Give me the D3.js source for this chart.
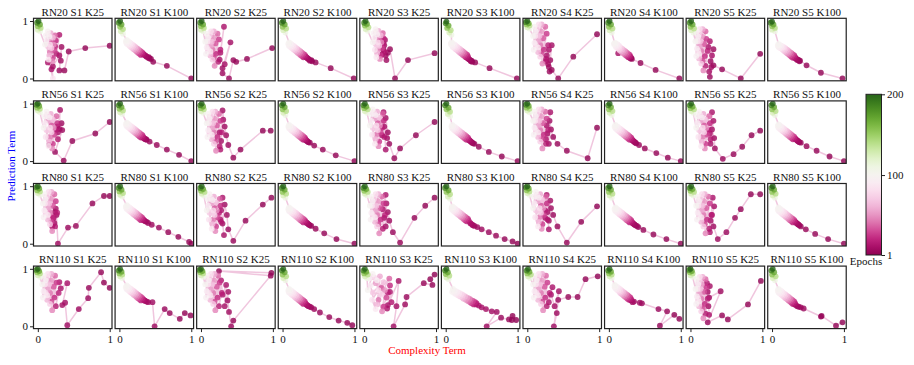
<!DOCTYPE html>
<html lang="en">
<head>
<meta charset="UTF-8">
<title>Trajectories</title>
<script src="https://d3js.org/d3.v7.min.js"></script>
<style>
  body { margin: 0; background: #fff; }
  svg text { font-family: "Liberation Serif", "DejaVu Serif", serif; }
</style>
</head>
<body>
<svg id="chart" width="914" height="365"></svg>
<script>
const models = ["RN20", "RN56", "RN80", "RN110"];
const seeds = ["S1", "S2", "S3", "S4", "S5"];
const ks = ["K25", "K100"];
const epochs = [1,2,3,4,5,6,7,8,9,10,11,12,
  14,17,21,25,29,33,37,42,46,50,54,58,62,66,70,74,78,82,85,88,91,94,96,98,100,
  110,125,140,155,170,185,200];
const axisTicks = [0, 1];
const barTicks = [1, 100, 200];

// each list: [complexity, prediction] per entry of epochs
const rn20_s1_k25 = [[1.0,0.57],[0.66,0.53],[0.43,0.47],[0.37,0.14],[0.30,0.14],[0.33,0.55],[0.32,0.31],[0.30,0.40],[0.21,0.21],[0.19,0.16],[0.14,0.28],[0.30,0.76],
  [0.26,0.43],[0.24,0.56],[0.25,0.66],[0.21,0.36],[0.23,0.49],[0.19,0.62],[0.24,0.75],[0.17,0.46],[0.2,0.3],[0.22,0.59],[0.15,0.69],[0.18,0.79],[0.16,0.4],[0.21,0.71],[0.14,0.56],[0.19,0.53],[0.15,0.77],[0.17,0.59],[0.21,0.0],[0.15,0.33],[0.12,0.66],[0.16,0.73],[0.11,0.75],[0.14,0.82],[0.1,0.59],
  [0.03,0.82],[0.0,0.85],[0.04,0.88],[0.0,0.91],[0.03,0.94],[-0.01,0.97],[0.01,1.0]];
const rn20_s1_k100 = [[1.0,0.0],[0.66,0.22],[0.47,0.29],[0.44,0.34],[0.42,0.35],[0.41,0.37],[0.40,0.36],[0.38,0.38],[0.37,0.39],[0.36,0.40],[0.34,0.42],[0.33,0.43],
  [0.33,0.42],[0.3,0.41],[0.32,0.45],[0.28,0.43],[0.3,0.47],[0.26,0.45],[0.28,0.49],[0.24,0.47],[0.26,0.51],[0.22,0.49],[0.24,0.53],[0.2,0.51],[0.22,0.55],[0.18,0.53],[0.2,0.57],[0.16,0.55],[0.18,0.59],[0.14,0.57],[0.16,0.61],[0.12,0.59],[0.14,0.63],[0.1,0.61],[0.12,0.65],[0.09,0.64],[0.1,0.67],
  [0.05,0.78],[0.02,0.82],[0.05,0.86],[0.01,0.9],[0.03,0.94],[-0.01,0.97],[0.01,1.0]];
const rn20_s2_k25 = [[0.99,0.53],[0.64,0.34],[0.49,0.29],[0.45,0.32],[0.39,0.0],[0.30,0.09],[0.30,0.18],[0.41,0.63],[0.33,0.25],[0.26,0.33],[0.32,0.9],[0.27,0.45],
  [0.24,0.29],[0.27,0.5],[0.21,0.43],[0.25,0.68],[0.18,0.36],[0.2,0.61],[0.23,0.78],[0.16,0.5],[0.19,0.22],[0.17,0.71],[0.14,0.57],[0.18,0.82],[0.13,0.4],[0.15,0.64],[0.12,0.75],[0.16,0.33],[0.1,0.5],[0.14,0.82],[0.09,0.64],[0.13,0.47],[0.08,0.54],[0.1,0.71],[0.07,0.43],[0.08,0.78],[0.06,0.64],
  [0.03,0.82],[0.0,0.85],[0.04,0.88],[0.0,0.91],[0.03,0.94],[-0.01,0.97],[0.01,1.0]];
const rn20_s2_k100 = [[0.99,0.0],[0.67,0.18],[0.46,0.28],[0.41,0.30],[0.40,0.32],[0.38,0.31],[0.37,0.33],[0.36,0.34],[0.35,0.35],[0.34,0.36],[0.33,0.37],[0.32,0.38],
  [0.32,0.38],[0.29,0.37],[0.31,0.41],[0.27,0.39],[0.29,0.43],[0.25,0.41],[0.27,0.45],[0.23,0.43],[0.25,0.47],[0.21,0.45],[0.23,0.49],[0.19,0.47],[0.21,0.51],[0.17,0.49],[0.19,0.53],[0.15,0.51],[0.17,0.55],[0.13,0.53],[0.15,0.57],[0.11,0.55],[0.13,0.59],[0.09,0.57],[0.11,0.61],[0.08,0.6],[0.09,0.63],
  [0.04,0.8],[0.01,0.84],[0.05,0.87],[0.0,0.9],[0.03,0.94],[-0.01,0.97],[0.01,1.0]];
const rn20_s3_k25 = [[0.98,0.44],[0.61,0.32],[0.43,0.0],[0.36,0.51],[0.33,0.45],[0.31,0.32],[0.30,0.40],[0.29,0.67],[0.28,0.58],[0.27,0.5],[0.25,0.42],[0.26,0.62],
  [0.28,0.47],[0.26,0.6],[0.27,0.7],[0.23,0.4],[0.25,0.53],[0.21,0.66],[0.26,0.79],[0.19,0.5],[0.22,0.34],[0.24,0.63],[0.17,0.73],[0.2,0.83],[0.18,0.44],[0.23,0.75],[0.16,0.6],[0.21,0.57],[0.17,0.81],[0.19,0.63],[0.15,0.5],[0.17,0.37],[0.14,0.7],[0.18,0.77],[0.13,0.79],[0.16,0.86],[0.12,0.63],
  [0.05,0.83],[0.02,0.86],[0.06,0.89],[0.01,0.92],[0.04,0.95],[0.0,0.97],[0.02,1.0]];
const rn20_s3_k100 = [[0.99,0.0],[0.61,0.18],[0.41,0.28],[0.37,0.29],[0.36,0.31],[0.35,0.30],[0.34,0.32],[0.33,0.33],[0.32,0.34],[0.31,0.35],[0.30,0.36],[0.29,0.37],
  [0.31,0.38],[0.28,0.37],[0.3,0.41],[0.26,0.39],[0.28,0.43],[0.24,0.41],[0.26,0.45],[0.22,0.43],[0.24,0.47],[0.2,0.45],[0.22,0.49],[0.18,0.47],[0.2,0.51],[0.16,0.49],[0.18,0.53],[0.14,0.51],[0.16,0.55],[0.12,0.53],[0.14,0.57],[0.1,0.55],[0.12,0.59],[0.09,0.57],[0.1,0.61],[0.07,0.6],[0.08,0.63],
  [0.08,0.76],[0.05,0.8],[0.07,0.84],[0.02,0.88],[0.04,0.92],[0.0,0.96],[0.01,0.99]];
const rn20_s4_k25 = [[0.97,0.77],[0.64,0.38],[0.43,0.0],[0.34,0.15],[0.31,0.12],[0.30,0.2],[0.32,0.32],[0.34,0.58],[0.29,0.25],[0.27,0.4],[0.30,0.5],[0.26,0.3],
  [0.26,0.34],[0.29,0.58],[0.23,0.5],[0.27,0.78],[0.2,0.42],[0.22,0.7],[0.25,0.9],[0.18,0.58],[0.21,0.26],[0.19,0.82],[0.16,0.66],[0.2,0.94],[0.15,0.46],[0.17,0.74],[0.14,0.86],[0.18,0.38],[0.12,0.58],[0.16,0.94],[0.11,0.74],[0.15,0.54],[0.1,0.62],[0.12,0.82],[0.09,0.5],[0.1,0.9],[0.08,0.74],
  [0.03,0.87],[0.0,0.89],[0.03,0.92],[-0.01,0.94],[0.02,0.96],[-0.02,0.98],[0.0,1.0]];
const rn20_s4_k100 = [[0.98,0.0],[0.65,0.15],[0.44,0.27],[0.32,0.34],[0.31,0.36],[0.30,0.35],[0.29,0.37],[0.28,0.38],[0.13,0.44],[0.27,0.39],[0.26,0.4],[0.25,0.41],
  [0.3,0.38],[0.27,0.37],[0.29,0.41],[0.25,0.39],[0.27,0.43],[0.23,0.41],[0.25,0.45],[0.21,0.43],[0.23,0.47],[0.19,0.45],[0.21,0.49],[0.17,0.47],[0.19,0.51],[0.15,0.49],[0.17,0.53],[0.14,0.51],[0.15,0.55],[0.12,0.53],[0.14,0.57],[0.1,0.55],[0.12,0.59],[0.09,0.57],[0.1,0.61],[0.07,0.6],[0.08,0.62],
  [0.04,0.8],[0.01,0.84],[0.05,0.87],[0.0,0.9],[0.03,0.94],[-0.01,0.97],[0.01,1.0]];
const rn20_s5_k25 = [[0.97,0.43],[0.70,0.0],[0.44,0.16],[0.32,0.23],[0.27,0.03],[0.32,0.51],[0.28,0.3],[0.29,0.2],[0.26,0.12],[0.3,0.4],[0.25,0.55],[0.27,0.65],
  [0.21,0.22],[0.24,0.48],[0.2,0.39],[0.22,0.69],[0.17,0.31],[0.19,0.6],[0.21,0.82],[0.15,0.48],[0.18,0.14],[0.16,0.73],[0.13,0.56],[0.17,0.86],[0.12,0.35],[0.14,0.65],[0.12,0.77],[0.15,0.26],[0.11,0.48],[0.13,0.86],[0.1,0.65],[0.12,0.43],[0.09,0.52],[0.11,0.73],[0.08,0.39],[0.09,0.82],[0.07,0.65],
  [0.04,0.8],[0.01,0.84],[0.05,0.87],[0.0,0.9],[0.03,0.94],[-0.01,0.97],[0.01,1.0]];
const rn20_s5_k100 = [[0.98,0.0],[0.68,0.10],[0.48,0.23],[0.39,0.31],[0.38,0.3],[0.37,0.32],[0.36,0.33],[0.35,0.32],[0.34,0.34],[0.33,0.35],[0.32,0.36],[0.31,0.37],
  [0.32,0.37],[0.29,0.36],[0.31,0.4],[0.27,0.38],[0.29,0.42],[0.25,0.4],[0.27,0.44],[0.23,0.42],[0.25,0.46],[0.21,0.44],[0.23,0.48],[0.19,0.46],[0.21,0.5],[0.17,0.48],[0.19,0.52],[0.15,0.5],[0.17,0.54],[0.13,0.52],[0.15,0.55],[0.11,0.53],[0.13,0.57],[0.09,0.55],[0.11,0.58],[0.08,0.57],[0.09,0.6],
  [0.04,0.82],[0.0,0.85],[0.04,0.88],[0.0,0.91],[0.02,0.94],[-0.02,0.97],[0.0,0.99]];

const rn56_s1_k25 = [[1.0,0.68],[0.80,0.48],[0.48,0.35],[0.36,0.01],[0.24,0.16],[0.34,0.54],[0.33,0.66],[0.30,0.56],[0.31,0.89],[0.28,0.5],[0.16,0.28],[0.27,0.6],
  [0.28,0.38],[0.25,0.54],[0.27,0.66],[0.21,0.3],[0.23,0.46],[0.19,0.62],[0.26,0.78],[0.17,0.42],[0.2,0.22],[0.22,0.58],[0.15,0.7],[0.18,0.82],[0.16,0.34],[0.21,0.72],[0.12,0.54],[0.19,0.5],[0.14,0.8],[0.17,0.58],[0.11,0.42],[0.15,0.26],[0.1,0.66],[0.16,0.76],[0.09,0.78],[0.12,0.86],[0.08,0.58],
  [0.03,0.85],[0.0,0.88],[0.03,0.91],[-0.01,0.93],[0.02,0.96],[-0.02,0.98],[0.0,1.0]];
const rn56_s1_k100 = [[1.0,0.0],[0.83,0.11],[0.66,0.2],[0.52,0.28],[0.42,0.34],[0.38,0.37],[0.37,0.38],[0.36,0.38],[0.35,0.39],[0.34,0.4],[0.33,0.41],[0.32,0.42],
  [0.33,0.42],[0.3,0.41],[0.32,0.45],[0.28,0.43],[0.3,0.47],[0.26,0.45],[0.28,0.49],[0.24,0.47],[0.26,0.51],[0.22,0.49],[0.24,0.53],[0.2,0.51],[0.22,0.55],[0.18,0.53],[0.2,0.57],[0.16,0.55],[0.18,0.59],[0.14,0.57],[0.16,0.61],[0.12,0.59],[0.14,0.63],[0.1,0.61],[0.12,0.65],[0.09,0.64],[0.1,0.67],
  [0.04,0.82],[0.01,0.85],[0.05,0.88],[0.0,0.91],[0.03,0.94],[-0.01,0.97],[0.01,1.0]];
const rn56_s2_k25 = [[0.97,0.53],[0.86,0.53],[0.55,0.2],[0.45,0.06],[0.38,0.28],[0.35,0.45],[0.33,0.6],[0.3,0.88],[0.28,0.35],[0.31,0.72],[0.26,0.5],[0.27,0.2],
  [0.26,0.26],[0.29,0.5],[0.23,0.42],[0.27,0.7],[0.2,0.34],[0.22,0.62],[0.25,0.82],[0.18,0.5],[0.21,0.18],[0.19,0.74],[0.16,0.58],[0.2,0.86],[0.15,0.38],[0.17,0.66],[0.14,0.78],[0.18,0.3],[0.12,0.5],[0.16,0.86],[0.11,0.66],[0.15,0.46],[0.1,0.54],[0.12,0.74],[0.09,0.42],[0.1,0.82],[0.08,0.66],
  [0.03,0.84],[0.0,0.87],[0.04,0.9],[0.0,0.92],[0.03,0.95],[-0.01,0.97],[0.01,1.0]];
const rn56_s2_k100 = [[1.0,0.0],[0.74,0.1],[0.56,0.2],[0.44,0.27],[0.38,0.32],[0.36,0.33],[0.35,0.34],[0.34,0.35],[0.33,0.36],[0.32,0.37],[0.31,0.38],[0.3,0.39],
  [0.32,0.38],[0.29,0.37],[0.31,0.41],[0.27,0.39],[0.29,0.43],[0.25,0.41],[0.27,0.45],[0.23,0.43],[0.25,0.47],[0.21,0.45],[0.23,0.49],[0.19,0.47],[0.21,0.51],[0.17,0.49],[0.19,0.53],[0.15,0.51],[0.17,0.55],[0.13,0.53],[0.15,0.57],[0.11,0.55],[0.13,0.59],[0.09,0.57],[0.11,0.61],[0.08,0.6],[0.09,0.63],
  [0.04,0.8],[0.01,0.84],[0.05,0.87],[0.0,0.9],[0.03,0.94],[-0.01,0.97],[0.01,1.0]];
const rn56_s3_k25 = [[0.98,0.68],[0.72,0.45],[0.5,0.22],[0.42,0.05],[0.35,0.3],[0.33,0.5],[0.3,0.75],[0.32,0.4],[0.28,0.6],[0.3,0.2],[0.27,0.85],[0.25,0.45],
  [0.28,0.42],[0.25,0.58],[0.27,0.7],[0.21,0.34],[0.23,0.5],[0.19,0.66],[0.26,0.82],[0.17,0.46],[0.2,0.26],[0.22,0.62],[0.15,0.74],[0.18,0.86],[0.16,0.38],[0.21,0.76],[0.12,0.58],[0.19,0.54],[0.14,0.84],[0.17,0.62],[0.11,0.46],[0.15,0.3],[0.1,0.7],[0.16,0.8],[0.09,0.82],[0.12,0.9],[0.08,0.62],
  [0.04,0.84],[0.01,0.87],[0.05,0.9],[0.0,0.92],[0.03,0.95],[-0.01,0.97],[0.01,1.0]];
const rn56_s3_k100 = [[1.0,0.0],[0.78,0.08],[0.6,0.16],[0.46,0.25],[0.4,0.3],[0.38,0.31],[0.37,0.32],[0.36,0.33],[0.35,0.34],[0.34,0.35],[0.33,0.36],[0.32,0.37],
  [0.32,0.38],[0.29,0.37],[0.31,0.41],[0.27,0.39],[0.29,0.43],[0.25,0.41],[0.27,0.45],[0.23,0.43],[0.25,0.47],[0.21,0.45],[0.23,0.49],[0.19,0.47],[0.21,0.51],[0.17,0.49],[0.19,0.53],[0.15,0.51],[0.17,0.55],[0.13,0.53],[0.15,0.57],[0.11,0.55],[0.13,0.59],[0.09,0.57],[0.11,0.61],[0.08,0.6],[0.09,0.63],
  [0.06,0.78],[0.03,0.82],[0.06,0.86],[0.01,0.9],[0.04,0.93],[-0.01,0.97],[0.01,1.0]];
const rn56_s4_k25 = [[0.97,0.58],[0.84,0.05],[0.55,0.18],[0.42,0.3],[0.36,0.42],[0.33,0.55],[0.31,0.7],[0.3,0.3],[0.28,0.48],[0.32,0.85],[0.27,0.62],[0.26,0.38],
  [0.26,0.3],[0.29,0.54],[0.23,0.46],[0.27,0.74],[0.2,0.38],[0.22,0.66],[0.25,0.86],[0.18,0.54],[0.21,0.22],[0.19,0.78],[0.16,0.62],[0.2,0.9],[0.15,0.42],[0.17,0.7],[0.14,0.82],[0.18,0.34],[0.12,0.54],[0.16,0.9],[0.11,0.7],[0.15,0.5],[0.1,0.58],[0.12,0.78],[0.09,0.46],[0.1,0.86],[0.08,0.7],
  [0.03,0.85],[0.0,0.88],[0.03,0.91],[-0.01,0.93],[0.02,0.96],[-0.02,0.98],[0.0,1.0]];
const rn56_s4_k100 = [[1.0,0.0],[0.82,0.06],[0.66,0.14],[0.5,0.22],[0.42,0.28],[0.38,0.31],[0.37,0.32],[0.36,0.33],[0.35,0.34],[0.34,0.35],[0.33,0.36],[0.32,0.37],
  [0.32,0.38],[0.29,0.37],[0.31,0.41],[0.27,0.39],[0.29,0.43],[0.25,0.41],[0.27,0.45],[0.23,0.43],[0.25,0.47],[0.21,0.45],[0.23,0.49],[0.19,0.47],[0.21,0.51],[0.17,0.49],[0.19,0.53],[0.15,0.51],[0.17,0.55],[0.13,0.53],[0.15,0.57],[0.11,0.55],[0.13,0.59],[0.09,0.57],[0.11,0.61],[0.08,0.6],[0.09,0.63],
  [0.04,0.8],[0.01,0.84],[0.05,0.87],[0.0,0.9],[0.03,0.94],[-0.01,0.97],[0.01,1.0]];
const rn56_s5_k25 = [[0.97,0.53],[0.85,0.45],[0.72,0.25],[0.6,0.12],[0.45,0.04],[0.34,0.22],[0.33,0.4],[0.3,0.55],[0.32,0.7],[0.28,0.3],[0.3,0.85],[0.27,0.48],
  [0.28,0.38],[0.25,0.54],[0.27,0.66],[0.21,0.3],[0.23,0.46],[0.19,0.62],[0.26,0.78],[0.17,0.42],[0.2,0.22],[0.22,0.58],[0.15,0.7],[0.18,0.82],[0.16,0.34],[0.21,0.72],[0.12,0.54],[0.19,0.5],[0.14,0.8],[0.17,0.58],[0.11,0.42],[0.15,0.26],[0.1,0.66],[0.16,0.76],[0.09,0.78],[0.12,0.86],[0.08,0.58],
  [0.04,0.84],[0.01,0.87],[0.05,0.9],[0.0,0.92],[0.03,0.95],[-0.01,0.97],[0.01,1.0]];
const rn56_s5_k100 = [[1.0,0.0],[0.8,0.08],[0.62,0.18],[0.48,0.26],[0.4,0.32],[0.38,0.33],[0.37,0.34],[0.36,0.35],[0.35,0.36],[0.34,0.37],[0.33,0.38],[0.32,0.39],
  [0.32,0.39],[0.29,0.38],[0.31,0.42],[0.27,0.4],[0.29,0.44],[0.25,0.42],[0.27,0.46],[0.23,0.44],[0.25,0.48],[0.21,0.46],[0.23,0.5],[0.19,0.48],[0.21,0.52],[0.17,0.5],[0.19,0.54],[0.15,0.52],[0.17,0.56],[0.13,0.54],[0.15,0.58],[0.11,0.56],[0.13,0.6],[0.09,0.58],[0.11,0.62],[0.08,0.61],[0.09,0.64],
  [0.04,0.8],[0.01,0.84],[0.05,0.87],[0.0,0.9],[0.03,0.94],[-0.01,0.97],[0.01,1.0]];

const rn80_s1_k25 = [[1.0,0.83],[0.92,0.83],[0.76,0.70],[0.53,0.31],[0.42,0.28],[0.28,0.0],[0.26,0.5],[0.25,0.61],[0.23,0.36],[0.22,0.45],[0.24,0.55],[0.2,0.3],
  [0.24,0.3],[0.27,0.54],[0.21,0.46],[0.25,0.74],[0.19,0.38],[0.21,0.66],[0.23,0.86],[0.17,0.54],[0.2,0.22],[0.18,0.78],[0.15,0.62],[0.19,0.9],[0.14,0.42],[0.16,0.7],[0.13,0.82],[0.17,0.34],[0.11,0.54],[0.15,0.9],[0.1,0.7],[0.14,0.5],[0.09,0.58],[0.11,0.78],[0.08,0.46],[0.09,0.86],[0.07,0.7],
  [0.03,0.85],[0.0,0.88],[0.03,0.91],[-0.01,0.93],[0.02,0.96],[-0.02,0.98],[0.0,1.0]];
const rn80_s1_k100 = [[1.0,0.0],[0.97,0.03],[0.82,0.12],[0.68,0.2],[0.55,0.28],[0.45,0.33],[0.4,0.36],[0.38,0.38],[0.36,0.39],[0.35,0.4],[0.34,0.41],[0.33,0.42],
  [0.33,0.42],[0.3,0.41],[0.32,0.45],[0.28,0.43],[0.3,0.47],[0.26,0.45],[0.28,0.49],[0.24,0.47],[0.26,0.51],[0.22,0.49],[0.24,0.53],[0.2,0.51],[0.22,0.55],[0.18,0.53],[0.2,0.57],[0.16,0.55],[0.18,0.59],[0.14,0.57],[0.16,0.61],[0.12,0.59],[0.14,0.63],[0.1,0.61],[0.12,0.65],[0.09,0.64],[0.1,0.67],
  [0.04,0.82],[0.01,0.85],[0.05,0.88],[0.0,0.91],[0.03,0.94],[-0.01,0.97],[0.01,1.0]];
const rn80_s2_k25 = [[0.98,0.8],[0.86,0.68],[0.62,0.4],[0.45,0.05],[0.38,0.25],[0.36,0.5],[0.33,0.68],[0.3,0.35],[0.32,0.15],[0.28,0.58],[0.3,0.8],[0.27,0.42],
  [0.28,0.38],[0.25,0.54],[0.27,0.66],[0.21,0.3],[0.23,0.46],[0.19,0.62],[0.26,0.78],[0.17,0.42],[0.2,0.22],[0.22,0.58],[0.15,0.7],[0.18,0.82],[0.16,0.34],[0.21,0.72],[0.12,0.54],[0.19,0.5],[0.14,0.8],[0.17,0.58],[0.11,0.42],[0.15,0.26],[0.1,0.66],[0.16,0.76],[0.09,0.78],[0.12,0.86],[0.08,0.58],
  [0.04,0.84],[0.01,0.87],[0.05,0.9],[0.0,0.92],[0.03,0.95],[-0.01,0.97],[0.01,1.0]];
const rn80_s2_k100 = [[1.0,0.0],[0.75,0.08],[0.58,0.18],[0.46,0.26],[0.4,0.31],[0.38,0.32],[0.37,0.33],[0.36,0.34],[0.35,0.35],[0.34,0.36],[0.33,0.37],[0.32,0.38],
  [0.32,0.38],[0.29,0.37],[0.31,0.41],[0.27,0.39],[0.29,0.43],[0.25,0.41],[0.27,0.45],[0.23,0.43],[0.25,0.47],[0.21,0.45],[0.23,0.49],[0.19,0.47],[0.21,0.51],[0.17,0.49],[0.19,0.53],[0.15,0.51],[0.17,0.55],[0.13,0.53],[0.15,0.57],[0.11,0.55],[0.13,0.59],[0.09,0.57],[0.11,0.61],[0.08,0.6],[0.09,0.63],
  [0.04,0.8],[0.01,0.84],[0.05,0.87],[0.0,0.9],[0.03,0.94],[-0.01,0.97],[0.01,1.0]];
const rn80_s3_k25 = [[0.98,0.8],[0.85,0.66],[0.7,0.45],[0.5,0.02],[0.4,0.2],[0.35,0.4],[0.33,0.55],[0.3,0.3],[0.31,0.7],[0.28,0.45],[0.3,0.85],[0.26,0.6],
  [0.26,0.26],[0.29,0.5],[0.23,0.42],[0.27,0.7],[0.2,0.34],[0.22,0.62],[0.25,0.82],[0.18,0.5],[0.21,0.18],[0.19,0.74],[0.16,0.58],[0.2,0.86],[0.15,0.38],[0.17,0.66],[0.14,0.78],[0.18,0.3],[0.12,0.5],[0.16,0.86],[0.11,0.66],[0.15,0.46],[0.1,0.54],[0.12,0.74],[0.09,0.42],[0.1,0.82],[0.08,0.66],
  [0.04,0.84],[0.01,0.87],[0.05,0.9],[0.0,0.92],[0.03,0.95],[-0.01,0.97],[0.01,1.0]];
const rn80_s3_k100 = [[1.0,0.0],[0.93,0.04],[0.82,0.08],[0.7,0.14],[0.6,0.2],[0.5,0.25],[0.44,0.29],[0.4,0.31],[0.38,0.32],[0.37,0.33],[0.35,0.35],[0.34,0.36],
  [0.32,0.4],[0.29,0.39],[0.31,0.43],[0.27,0.41],[0.29,0.45],[0.25,0.43],[0.27,0.47],[0.23,0.45],[0.25,0.49],[0.21,0.47],[0.23,0.51],[0.19,0.49],[0.21,0.53],[0.17,0.51],[0.19,0.55],[0.15,0.53],[0.17,0.57],[0.13,0.55],[0.15,0.59],[0.11,0.57],[0.13,0.61],[0.09,0.59],[0.11,0.63],[0.08,0.62],[0.09,0.65],
  [0.06,0.78],[0.03,0.82],[0.06,0.86],[0.01,0.9],[0.04,0.93],[-0.01,0.97],[0.01,1.0]];
const rn80_s4_k25 = [[0.97,0.65],[0.75,0.38],[0.55,0.02],[0.42,0.3],[0.36,0.5],[0.33,0.62],[0.3,0.4],[0.32,0.75],[0.28,0.55],[0.3,0.25],[0.27,0.85],[0.25,0.45],
  [0.28,0.42],[0.25,0.58],[0.27,0.7],[0.21,0.34],[0.23,0.5],[0.19,0.66],[0.26,0.82],[0.17,0.46],[0.2,0.26],[0.22,0.62],[0.15,0.74],[0.18,0.86],[0.16,0.38],[0.21,0.76],[0.12,0.58],[0.19,0.54],[0.14,0.84],[0.17,0.62],[0.11,0.46],[0.15,0.3],[0.1,0.7],[0.16,0.8],[0.09,0.82],[0.12,0.9],[0.08,0.62],
  [0.03,0.85],[0.0,0.88],[0.03,0.91],[-0.01,0.93],[0.02,0.96],[-0.02,0.98],[0.0,1.0]];
const rn80_s4_k100 = [[1.0,0.0],[0.8,0.08],[0.62,0.16],[0.48,0.24],[0.41,0.29],[0.39,0.31],[0.37,0.32],[0.36,0.33],[0.35,0.34],[0.34,0.35],[0.33,0.36],[0.32,0.37],
  [0.32,0.38],[0.29,0.37],[0.31,0.41],[0.27,0.39],[0.29,0.43],[0.25,0.41],[0.27,0.45],[0.23,0.43],[0.25,0.47],[0.21,0.45],[0.23,0.49],[0.19,0.47],[0.21,0.51],[0.17,0.49],[0.19,0.53],[0.15,0.51],[0.17,0.55],[0.13,0.53],[0.15,0.57],[0.11,0.55],[0.13,0.59],[0.09,0.57],[0.11,0.61],[0.08,0.6],[0.09,0.63],
  [0.04,0.8],[0.01,0.84],[0.05,0.87],[0.0,0.9],[0.03,0.94],[-0.01,0.97],[0.01,1.0]];
const rn80_s5_k25 = [[0.97,0.86],[0.84,0.86],[0.7,0.6],[0.62,0.45],[0.5,0.2],[0.38,0.08],[0.32,0.3],[0.3,0.5],[0.33,0.65],[0.28,0.4],[0.31,0.8],[0.27,0.2],
  [0.26,0.26],[0.29,0.5],[0.23,0.42],[0.27,0.7],[0.2,0.34],[0.22,0.62],[0.25,0.82],[0.18,0.5],[0.21,0.18],[0.19,0.74],[0.16,0.58],[0.2,0.86],[0.15,0.38],[0.17,0.66],[0.14,0.78],[0.18,0.3],[0.12,0.5],[0.16,0.86],[0.11,0.66],[0.15,0.46],[0.1,0.54],[0.12,0.74],[0.09,0.42],[0.1,0.82],[0.08,0.66],
  [0.04,0.84],[0.01,0.87],[0.05,0.9],[0.0,0.92],[0.03,0.95],[-0.01,0.97],[0.01,1.0]];
const rn80_s5_k100 = [[1.0,0.0],[0.78,0.08],[0.6,0.17],[0.47,0.25],[0.4,0.3],[0.38,0.32],[0.37,0.33],[0.36,0.34],[0.35,0.35],[0.34,0.36],[0.33,0.37],[0.32,0.38],
  [0.32,0.38],[0.29,0.37],[0.31,0.41],[0.27,0.39],[0.29,0.43],[0.25,0.41],[0.27,0.45],[0.23,0.43],[0.25,0.47],[0.21,0.45],[0.23,0.49],[0.19,0.47],[0.21,0.51],[0.17,0.49],[0.19,0.53],[0.15,0.51],[0.17,0.55],[0.13,0.53],[0.15,0.57],[0.11,0.55],[0.13,0.59],[0.09,0.57],[0.11,0.61],[0.08,0.6],[0.09,0.63],
  [0.04,0.8],[0.01,0.84],[0.05,0.87],[0.0,0.9],[0.03,0.94],[-0.01,0.97],[0.01,1.0]];

const rn110_s1_k25 = [[1.0,0.67],[0.92,0.76],[0.88,0.94],[0.71,0.67],[0.70,0.49],[0.57,0.30],[0.41,0.02],[0.38,0.41],[0.34,0.37],[0.41,0.75],[0.32,0.66],[0.3,0.77],
  [0.25,0.35],[0.29,0.58],[0.23,0.5],[0.26,0.76],[0.19,0.43],[0.22,0.69],[0.24,0.88],[0.17,0.58],[0.2,0.28],[0.18,0.8],[0.14,0.65],[0.19,0.91],[0.13,0.46],[0.16,0.73],[0.12,0.84],[0.17,0.39],[0.11,0.58],[0.14,0.91],[0.1,0.73],[0.13,0.54],[0.08,0.61],[0.11,0.8],[0.07,0.5],[0.08,0.88],[0.06,0.73],
  [0.03,0.86],[0.0,0.89],[0.03,0.92],[-0.01,0.94],[0.02,0.96],[-0.02,0.98],[0.0,1.0]];
const rn110_s1_k100 = [[0.99,0.19],[0.91,0.23],[0.84,0.13],[0.70,0.23],[0.63,0.30],[0.49,0.0],[0.46,0.42],[0.40,0.42],[0.38,0.43],[0.36,0.44],[0.35,0.45],[0.34,0.46],
  [0.33,0.46],[0.3,0.45],[0.32,0.49],[0.28,0.47],[0.3,0.51],[0.26,0.49],[0.28,0.53],[0.24,0.51],[0.26,0.55],[0.22,0.53],[0.24,0.57],[0.2,0.55],[0.22,0.59],[0.18,0.57],[0.2,0.61],[0.16,0.59],[0.18,0.63],[0.14,0.61],[0.16,0.65],[0.12,0.63],[0.14,0.67],[0.1,0.65],[0.12,0.69],[0.09,0.68],[0.1,0.71],
  [0.04,0.84],[0.01,0.87],[0.04,0.9],[0.0,0.92],[0.03,0.95],[-0.01,0.97],[0.01,1.0]];
const rn110_s2_k25 = [[0.98,0.93],[0.25,0.96],[0.97,0.88],[0.45,0.1],[0.42,0.0],[0.39,0.25],[0.37,0.45],[0.38,0.6],[0.33,0.35],[0.35,0.72],[0.3,0.55],[0.28,0.8],
  [0.25,0.35],[0.29,0.58],[0.23,0.5],[0.26,0.76],[0.19,0.43],[0.22,0.69],[0.24,0.88],[0.17,0.58],[0.2,0.28],[0.18,0.8],[0.14,0.65],[0.19,0.91],[0.13,0.46],[0.16,0.73],[0.12,0.84],[0.17,0.39],[0.11,0.58],[0.14,0.91],[0.1,0.73],[0.13,0.54],[0.08,0.61],[0.11,0.8],[0.07,0.5],[0.08,0.88],[0.06,0.73],
  [0.03,0.86],[0.0,0.89],[0.03,0.92],[-0.01,0.94],[0.02,0.96],[-0.02,0.98],[0.0,1.0]];
const rn110_s2_k100 = [[0.97,0.02],[0.9,0.06],[0.78,0.1],[0.65,0.16],[0.52,0.24],[0.44,0.3],[0.4,0.33],[0.38,0.34],[0.36,0.35],[0.35,0.36],[0.34,0.37],[0.33,0.38],
  [0.32,0.4],[0.29,0.39],[0.31,0.43],[0.27,0.41],[0.29,0.45],[0.25,0.43],[0.27,0.47],[0.23,0.45],[0.25,0.49],[0.21,0.47],[0.23,0.51],[0.19,0.49],[0.21,0.53],[0.17,0.51],[0.19,0.55],[0.15,0.53],[0.17,0.57],[0.13,0.55],[0.15,0.59],[0.11,0.57],[0.13,0.61],[0.09,0.59],[0.11,0.63],[0.08,0.62],[0.09,0.65],
  [0.04,0.8],[0.01,0.84],[0.05,0.87],[0.0,0.9],[0.03,0.94],[-0.01,0.97],[0.01,1.0]];
const rn110_s3_k25 = [[0.98,0.9],[0.92,0.82],[0.95,0.72],[0.83,0.75],[0.59,0.51],[0.57,0.38],[0.41,0.0],[0.45,0.35],[0.48,0.79],[0.33,0.37],[0.32,0.31],[0.36,0.6],
  [0.38,0.42],[0.33,0.59],[0.36,0.71],[0.27,0.34],[0.31,0.5],[0.24,0.67],[0.35,0.83],[0.2,0.46],[0.25,0.26],[0.29,0.63],[0.16,0.75],[0.22,0.87],[0.18,0.38],[0.27,0.77],[0.12,0.59],[0.24,0.55],[0.14,0.85],[0.2,0.63],[0.11,0.46],[0.16,0.3],[0.09,0.71],[0.18,0.8],[0.07,0.83],[0.12,0.91],[0.05,0.63],
  [0.04,0.84],[0.01,0.87],[0.05,0.9],[0.0,0.92],[0.03,0.95],[-0.01,0.97],[0.01,1.0]];
const rn110_s3_k100 = [[0.98,0.11],[0.93,0.18],[0.92,0.11],[0.88,0.12],[0.77,0.15],[0.57,0.0],[0.71,0.25],[0.64,0.26],[0.56,0.3],[0.5,0.33],[0.46,0.36],[0.42,0.38],
  [0.43,0.4],[0.39,0.38],[0.41,0.42],[0.36,0.4],[0.38,0.44],[0.34,0.42],[0.35,0.46],[0.31,0.44],[0.33,0.48],[0.28,0.46],[0.3,0.5],[0.25,0.48],[0.27,0.52],[0.23,0.5],[0.24,0.54],[0.2,0.52],[0.22,0.56],[0.17,0.54],[0.19,0.58],[0.14,0.56],[0.16,0.6],[0.12,0.58],[0.13,0.62],[0.09,0.6],[0.1,0.65],
  [0.04,0.82],[0.01,0.85],[0.05,0.88],[0.0,0.91],[0.03,0.94],[-0.01,0.97],[0.01,1.0]];
const rn110_s4_k25 = [[0.98,0.87],[0.81,0.82],[0.70,0.51],[0.57,0.51],[0.43,0.46],[0.41,0.23],[0.37,0.0],[0.44,0.61],[0.38,0.35],[0.33,0.55],[0.35,0.68],[0.3,0.42],
  [0.27,0.35],[0.31,0.58],[0.25,0.5],[0.28,0.76],[0.21,0.43],[0.24,0.69],[0.26,0.88],[0.19,0.58],[0.22,0.28],[0.2,0.8],[0.16,0.65],[0.21,0.91],[0.15,0.46],[0.18,0.73],[0.14,0.84],[0.19,0.39],[0.13,0.58],[0.16,0.91],[0.12,0.73],[0.15,0.54],[0.1,0.61],[0.13,0.8],[0.09,0.5],[0.1,0.88],[0.08,0.73],
  [0.04,0.84],[0.01,0.87],[0.05,0.9],[0.0,0.92],[0.03,0.95],[-0.01,0.97],[0.01,1.0]];
const rn110_s4_k100 = [[0.98,0.13],[0.91,0.2],[0.71,0.01],[0.81,0.26],[0.69,0.30],[0.46,0.4],[0.43,0.41],[0.35,0.43],[0.33,0.42],[0.31,0.45],[0.3,0.46],[0.29,0.47],
  [0.31,0.47],[0.28,0.46],[0.3,0.5],[0.26,0.48],[0.28,0.52],[0.24,0.5],[0.26,0.54],[0.22,0.52],[0.24,0.56],[0.2,0.54],[0.22,0.58],[0.18,0.56],[0.2,0.6],[0.16,0.58],[0.18,0.62],[0.15,0.6],[0.16,0.64],[0.13,0.62],[0.14,0.66],[0.11,0.64],[0.12,0.68],[0.09,0.66],[0.1,0.7],[0.08,0.69],[0.08,0.72],
  [0.04,0.84],[0.01,0.87],[0.04,0.9],[0.0,0.92],[0.03,0.95],[-0.01,0.97],[0.01,1.0]];
const rn110_s5_k25 = [[0.98,0.79],[0.80,0.38],[0.52,0.12],[0.44,0.19],[0.24,0.07],[0.42,0.61],[0.26,0.5],[0.25,0.35],[0.27,0.7],[0.24,0.6],[0.26,0.2],[0.23,0.75],
  [0.21,0.22],[0.24,0.48],[0.2,0.39],[0.22,0.69],[0.17,0.31],[0.19,0.6],[0.21,0.82],[0.15,0.48],[0.18,0.14],[0.16,0.73],[0.13,0.56],[0.17,0.86],[0.12,0.35],[0.14,0.65],[0.12,0.77],[0.15,0.26],[0.11,0.48],[0.13,0.86],[0.1,0.65],[0.12,0.43],[0.09,0.52],[0.11,0.73],[0.08,0.39],[0.09,0.82],[0.07,0.65],
  [0.03,0.86],[0.0,0.89],[0.03,0.92],[-0.01,0.94],[0.02,0.96],[-0.02,0.98],[0.0,1.0]];
const rn110_s5_k100 = [[0.98,0.07],[0.89,0.01],[0.69,0.18],[0.68,0.17],[0.44,0.31],[0.40,0.33],[0.37,0.34],[0.35,0.35],[0.33,0.37],[0.32,0.38],[0.31,0.39],[0.30,0.4],
  [0.32,0.4],[0.29,0.39],[0.31,0.43],[0.27,0.41],[0.29,0.45],[0.25,0.43],[0.27,0.47],[0.23,0.45],[0.25,0.49],[0.21,0.47],[0.23,0.51],[0.19,0.49],[0.21,0.53],[0.17,0.51],[0.19,0.55],[0.15,0.53],[0.17,0.57],[0.13,0.55],[0.15,0.59],[0.11,0.57],[0.13,0.61],[0.09,0.59],[0.11,0.63],[0.08,0.62],[0.09,0.65],
  [0.04,0.8],[0.01,0.84],[0.05,0.87],[0.0,0.9],[0.03,0.94],[-0.01,0.97],[0.01,1.0]];

const rows = [
  [rn20_s1_k25, rn20_s1_k100, rn20_s2_k25, rn20_s2_k100, rn20_s3_k25, rn20_s3_k100, rn20_s4_k25, rn20_s4_k100, rn20_s5_k25, rn20_s5_k100],
  [rn56_s1_k25, rn56_s1_k100, rn56_s2_k25, rn56_s2_k100, rn56_s3_k25, rn56_s3_k100, rn56_s4_k25, rn56_s4_k100, rn56_s5_k25, rn56_s5_k100],
  [rn80_s1_k25, rn80_s1_k100, rn80_s2_k25, rn80_s2_k100, rn80_s3_k25, rn80_s3_k100, rn80_s4_k25, rn80_s4_k100, rn80_s5_k25, rn80_s5_k100],
  [rn110_s1_k25, rn110_s1_k100, rn110_s2_k25, rn110_s2_k100, rn110_s3_k25, rn110_s3_k100, rn110_s4_k25, rn110_s4_k100, rn110_s5_k25, rn110_s5_k100]
];

const svg = d3.select("#chart");
const left0 = 33.5, colStep = 81.58, pw = 78.5;
const top0 = 18.3, rowStep = 82.6, ph = 62.5;

const x = d3.scaleLinear().domain([-0.06, 1.032]).range([0, pw]);
const y = d3.scaleLinear().domain([-0.04, 1.047]).range([ph, 0]);
const color = d3.scaleSequential(d3.interpolatePiYG).domain([1, 200]);
const line = d3.line().x(d => x(d[0])).y(d => y(d[1]));

function styleAxis(g) {
  g.select(".domain").remove();
  g.selectAll(".tick line").attr("stroke", "#222").attr("stroke-width", 1);
  g.selectAll(".tick text").attr("font-size", 11).attr("fill", "#111");
}

rows.forEach((row, r) => {
  row.forEach((pts, c) => {
    const g = svg.append("g")
      .attr("transform", "translate(" + (left0 + c * colStep) + "," + (top0 + r * rowStep) + ")");
    const clipId = "clip-" + r + "-" + c;
    g.append("clipPath").attr("id", clipId)
      .append("rect").attr("width", pw).attr("height", ph);
    const plot = g.append("g").attr("clip-path", "url(#" + clipId + ")");

    plot.append("path")
      .attr("d", line(pts))
      .attr("fill", "none")
      .attr("stroke", "#c51b7d")
      .attr("stroke-opacity", 0.25)
      .attr("stroke-width", 1.5);

    // epoch order, so later (paler) points are drawn over earlier ones
    plot.selectAll("circle").data(pts).join("circle")
      .attr("cx", d => x(d[0]))
      .attr("cy", d => y(d[1]))
      .attr("r", 2.9)
      .attr("fill", (d, i) => color(epochs[i]))
      .attr("fill-opacity", 0.8);

    g.append("rect")
      .attr("width", pw).attr("height", ph)
      .attr("fill", "none").attr("stroke", "#222").attr("stroke-width", 1.2);

    g.append("text")
      .attr("x", pw / 2).attr("y", -2.8)
      .attr("text-anchor", "middle")
      .attr("font-size", 11)
      .attr("fill", "#111")
      .text(models[r] + " " + seeds[Math.floor(c / 2)] + " " + ks[c % 2]);

    if (c === 0) {
      g.append("g")
        .call(d3.axisLeft(y).tickValues(axisTicks).tickSize(3.5).tickPadding(2).tickFormat(d3.format("d")))
        .call(styleAxis);
    }
    if (r === rows.length - 1) {
      g.append("g")
        .attr("transform", "translate(0," + ph + ")")
        .call(d3.axisBottom(x).tickValues(axisTicks).tickSize(3.5).tickPadding(3).tickFormat(d3.format("d")))
        .call(styleAxis);
    }
  });
});

// axis titles
svg.append("text")
  .attr("x", 427).attr("y", 354)
  .attr("text-anchor", "middle")
  .attr("font-size", 11)
  .attr("fill", "#ff0000")
  .text("Complexity Term");

svg.append("text")
  .attr("transform", "translate(15,166) rotate(-90)")
  .attr("text-anchor", "middle")
  .attr("font-size", 11)
  .attr("fill", "#0000ff")
  .text("Prediction Term");

// colorbar
const cbX = 866, cbW = 15.5, cbTop = 94.3, cbBot = 255;
const cbScale = d3.scaleLinear().domain([1, 200]).range([cbBot, cbTop]);
const grad = svg.append("defs").append("linearGradient")
  .attr("id", "cbGrad")
  .attr("x1", "0%").attr("x2", "0%").attr("y1", "100%").attr("y2", "0%");
d3.range(0, 1.0001, 0.05).forEach(t => {
  grad.append("stop").attr("offset", (t * 100) + "%").attr("stop-color", d3.interpolatePiYG(t));
});
svg.append("rect")
  .attr("x", cbX).attr("y", cbTop)
  .attr("width", cbW).attr("height", cbBot - cbTop)
  .attr("fill", "url(#cbGrad)")
  .attr("stroke", "#222").attr("stroke-width", 1);

svg.append("g")
  .attr("transform", "translate(" + (cbX + cbW) + ",0)")
  .call(d3.axisRight(cbScale).tickValues(barTicks).tickSize(3.5).tickPadding(2).tickFormat(d3.format("d")))
  .call(styleAxis);

svg.append("text")
  .attr("x", 866).attr("y", 265)
  .attr("text-anchor", "middle")
  .attr("font-size", 11)
  .attr("fill", "#111")
  .text("Epochs");
</script>
</body>
</html>
